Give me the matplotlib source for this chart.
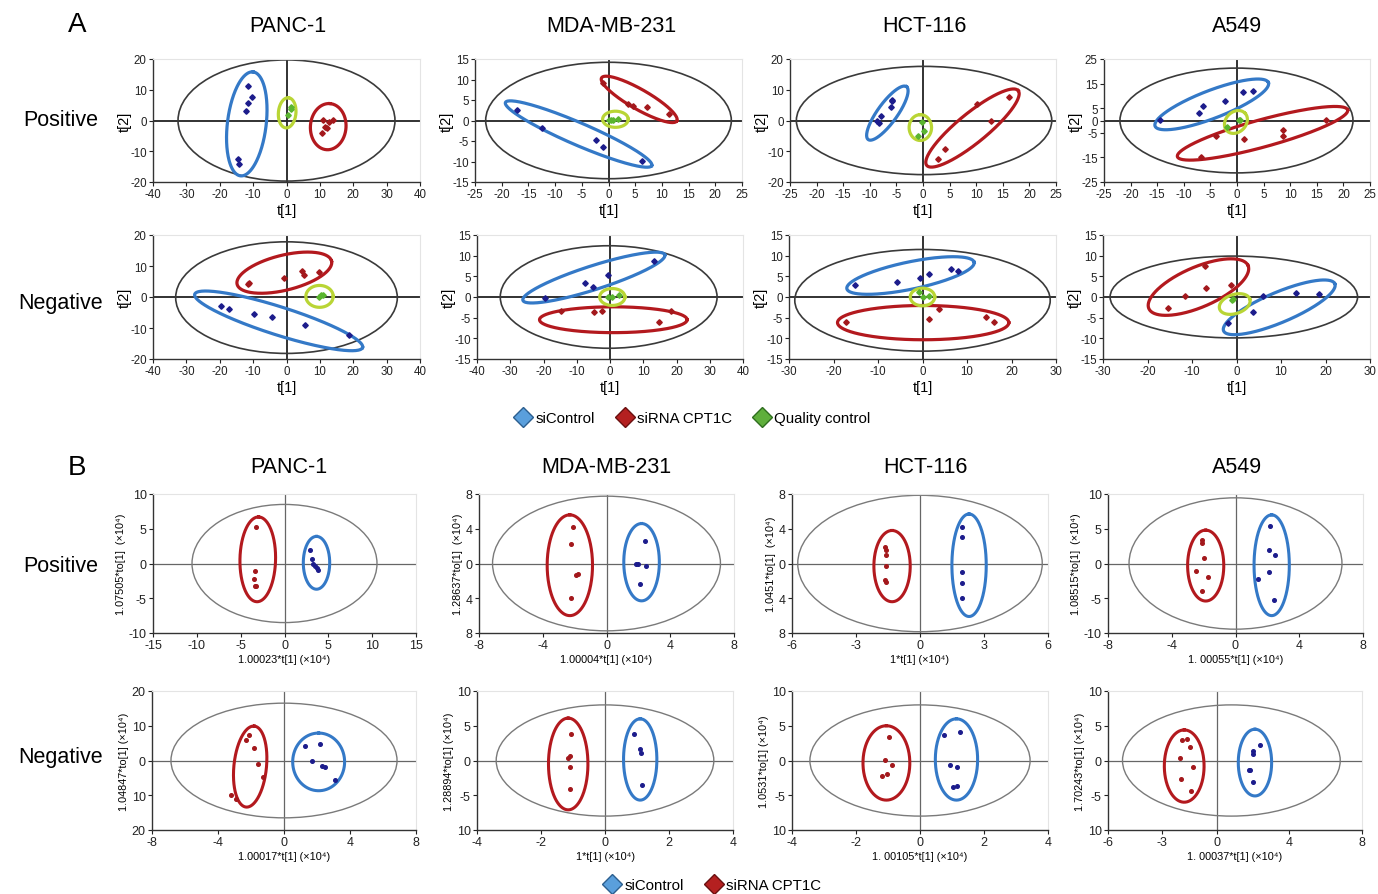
import numpy as np
import matplotlib.pyplot as plt
from matplotlib.patches import Ellipse
from matplotlib.lines import Line2D

plt.rcParams['font.family'] = ['Liberation Sans', 'DejaVu Sans']
plt.rcParams['axes.unicode_minus'] = False

W, H = 1378, 895
cell_lines = ['PANC-1', 'MDA-MB-231', 'HCT-116', 'A549']

# ---------------- panel A : PCA score plots (t[1] vs t[2]) ----------------
# ellipse entries: (centre, tip of long axis, minor/major ratio) for siControl, siRNA, QC
a_pos_panc1_si = [(-11.5, 11.2), (-10.4, 7.5), (-11.6, 5.8), (-12, 3.1), (-14.4, -12.5), (-14.2, -14)]
a_pos_panc1_cpt = [(11, 0.3), (12.8, -0.4), (13.8, 0.1), (11.5, -2.2), (12.2, -2.6), (10.7, -4)]
a_pos_panc1_qc = [(1.2, 4.5), (1.3, 3.6), (0.5, 1.7)]
a_pos_panc1_ell = [((-11.9, -1.1), (-10, 15.8), 0.37), ((12.5, -2), (13, 5.5), 0.77), ((0.2, 2.5), (0.6, 7.4), 0.58)]
a_pos_panc1_t2 = (0, 0, 32.5, 19.7)

a_pos_mda_si = [(-17.2, 2.6), (-12.5, -1.9), (-2.4, -4.8), (-1.1, -6.4), (6.2, -9.8)]
a_pos_mda_cpt = [(-1.1, 9.1), (3.7, 4.1), (4.5, 3.5), (7.2, 3.4), (11.3, 1.7)]
a_pos_mda_qc = [(0, 0.2), (0.5, 0.1), (0.9, 0.2), (1.8, 0.3)]
a_pos_mda_ell = [((-5.6, -3.3), (8.1, -11), 0.14), ((5.75, 5.15), (12.8, -0.1), 0.23), ((1.3, 0.3), (3.7, 0.3), 0.63)]
a_pos_mda_t2 = (0, 0, 23, 14.2)

a_pos_hct_si = [(-5.9, 6.8), (-5.8, 6.2), (-6, 4.5), (-7.9, 1.4), (-8.7, -0.3), (-8.2, -0.8)]
a_pos_hct_cpt = [(16.1, 7.8), (10.2, 5.3), (12.8, 0), (4.2, -9.2), (2.9, -12.4)]
a_pos_hct_qc = [(-0.1, -0.5), (0.1, -3.5), (-0.9, -4.9)]
a_pos_hct_ell = [((-6.7, 2.4), (-3.1, 11), 0.3), ((9.3, -2.45), (17.9, 9.7), 0.25), ((-0.5, -2.3), (-0.5, 1.9), 0.87)]
a_pos_hct_t2 = (0.2, 0, 24, 17.6)

a_pos_a549_si = [(-14.4, 0.4), (-7.2, 3.1), (-6.3, 5.9), (-2.2, 7.8), (1.1, 11.5), (3.1, 12.1)]
a_pos_a549_cpt = [(16.8, 0.1), (8.6, -3.8), (8.7, -6.3), (1.3, -7.4), (-3.9, -6.3), (-6.7, -14.9)]
a_pos_a549_qc = [(0.3, 0.3), (-1.8, -2.5), (0.6, 0.1)]
a_pos_a549_ell = [((-4.75, 6.55), (5.9, 15.4), 0.23), ((4.8, -5.2), (20.8, 4.3), 0.155), ((-0.2, -0.6), (1.5, 3), 0.8)]
a_pos_a549_t2 = (-0.1, 0, 21.9, 21.3)

a_neg_panc1_si = [(-19.5, -3), (-17.2, -4), (-9.6, -5.6), (-4.2, -6.5), (5.5, -9), (18.6, -12.1)]
a_neg_panc1_cpt = [(-11.2, 4.6), (-11.6, 4.1), (-0.8, 6), (4.5, 8.4), (5.3, 7), (9.6, 8)]
a_neg_panc1_qc = [(9.7, 0), (10.4, 0.5), (11, 0.6)]
a_neg_panc1_ell = [((-2.35, -7.7), (22.8, -16.3), 0.16), ((-0.65, 7.85), (13.5, 11.6), 0.36), ((9.9, 0.2), (14, 0.2), 0.8)]
a_neg_panc1_t2 = (0, -0.2, 33.2, 18)

a_neg_mda_si = [(-19.4, -0.2), (-7.5, 3.4), (-5.2, 2.5), (-0.5, 5.4), (13.3, 8.8)]
a_neg_mda_cpt = [(-14.6, -3.4), (-4.8, -3.6), (-2.3, -3.4), (18.3, -3.4), (14.8, -6.1)]
a_neg_mda_qc = [(-0.5, 0), (0.5, 0), (2.8, 0.6)]
a_neg_mda_ell = [((-4.85, 4.7), (16.5, 10.2), 0.16), ((1, -5.5), (23.2, -5.5), 0.175), ((0.7, 0), (4.5, 0), 0.67)]
a_neg_mda_t2 = (-0.4, 0, 32.6, 12.4)

a_neg_hct_si = [(-15.2, 2.8), (-5.8, 3.6), (-0.5, 4.6), (1.4, 5.6), (6.5, 6.8), (8, 6.2)]
a_neg_hct_cpt = [(-17.3, -6.1), (3.6, -3), (1.5, -5.4), (14.3, -4.8), (16.1, -6)]
a_neg_hct_qc = [(-0.8, 1.2), (0, 0), (1.5, 0.2)]
a_neg_hct_ell = [((-2.7, 5.2), (11.6, 8.4), 0.21), ((0.15, -6.2), (19.4, -6.2), 0.2), ((0, 0), (2.75, 0), 0.72)]
a_neg_hct_t2 = (0, -0.8, 28.7, 12.3)

a_neg_a549_si = [(-2, -6.2), (3.8, -3.6), (6, 0.3), (13.4, 1), (18.6, 0.7)]
a_neg_a549_cpt = [(-7, 7.4), (-6.9, 2.1), (-11.6, 0.2), (-1.3, 3), (-15.3, -2.6)]
a_neg_a549_qc = [(-0.8, -0.4), (-1.1, -0.8)]
a_neg_a549_ell = [((9.6, -2.5), (22.1, 3.2), 0.25), ((-8.55, 2.4), (2.6, 7.6), 0.37), ((-0.4, -1.7), (3, -0.5), 0.6)]
a_neg_a549_t2 = (-0.6, 0, 27.8, 9.9)

a_pos_xticks = [np.arange(-40, 41, 10), np.arange(-25, 26, 5), np.arange(-25, 26, 5), np.arange(-25, 26, 5)]
a_pos_yticks = [np.arange(-20, 21, 10), np.arange(-15, 16, 5), np.arange(-20, 21, 10), [-25, -15, -5, 0, 5, 15, 25]]
a_neg_xticks = [np.arange(-40, 41, 10), np.arange(-40, 41, 10), np.arange(-30, 31, 10), np.arange(-30, 31, 10)]
a_neg_yticks = [np.arange(-20, 21, 10), np.arange(-15, 16, 5), np.arange(-15, 16, 5), np.arange(-15, 16, 5)]

# ---------------- panel B : OPLS-DA score plots ----------------
b_pos_panc1_si = [(2.9, 2), (3.1, 0.7), (3.2, -0.1), (3.5, -0.3), (3.8, -0.9), (3.7, -0.7)]
b_pos_panc1_cpt = [(-3.2, 5.2), (-3.4, -1.1), (-3.5, -2.3), (-3.4, -3.2), (-3.2, -3.2)]
b_pos_panc1_ell = [((3.65, 0.1), (3.65, 3.9), 0.5), ((-3.05, 0.6), (-2.95, 6.7), 0.42)]
b_pos_panc1_t2 = (0, 0, 10.55, 8.5)

b_pos_mda_si = [(2.4, 2.55), (1.85, -0.1), (1.95, -0.05), (2.5, -0.3), (2.1, -2.4)]
b_pos_mda_cpt = [(-2.1, 4.15), (-2.2, 2.3), (-1.9, -1.3), (-1.8, -1.25), (-2.2, -4.0)]
b_pos_mda_ell = [((2.2, 0.15), (2.2, 4.6), 0.46), ((-2.3, -0.2), (-2.3, 5.6), 0.45)]
b_pos_mda_t2 = (0, 0, 7.15, 7.75)

b_pos_hct_si = [(1.98, 4.25), (1.98, 3.0), (1.97, -0.95), (1.98, -2.2), (1.97, -4.0)]
b_pos_hct_cpt = [(-1.62, 1.9), (-1.6, 1.5), (-1.58, 1.0), (-1.6, -0.3), (-1.62, -1.9), (-1.6, -2.1)]
b_pos_hct_ell = [((2.3, -0.2), (2.3, 5.7), 0.335), ((-1.31, -0.3), (-1.31, 3.8), 0.51)]
b_pos_hct_t2 = (0, 0, 5.73, 7.85)

b_pos_a549_si = [(2.15, 5.4), (2.1, 1.9), (2.5, 1.2), (2.1, -1.2), (1.4, -2.2), (2.4, -5.2)]
b_pos_a549_cpt = [(-2.1, 3.45), (-2.13, 2.9), (-1.98, 0.75), (-2.5, -1.1), (-1.75, -2.0), (-2.1, -4.0)]
b_pos_a549_ell = [((2.27, -0.25), (2.27, 7.0), 0.35), ((-1.87, -0.3), (-1.87, 4.8), 0.51)]
b_pos_a549_t2 = (0, 0, 6.68, 9.45)

b_neg_panc1_si = [(1.3, 4.1), (2.2, 4.7), (1.7, 0), (2.3, -1.5), (2.5, -1.75), (3.1, -5.5)]
b_neg_panc1_cpt = [(-2.3, 5.8), (-2.1, 7.3), (-1.8, 3.5), (-1.6, -0.9), (-1.3, -4.7), (-3.2, -9.9), (-2.9, -11.1)]
b_neg_panc1_ell = [((2.1, -0.4), (2.1, 7.9), 0.9), ((-2.05, -1.75), (-1.8, 9.9), 0.4)]
b_neg_panc1_t2 = (0, 0, 6.85, 16.5)

b_neg_mda_si = [(0.9, 3.8), (1.1, 1.6), (1.13, 1.1), (1.15, -3.5)]
b_neg_mda_cpt = [(-1.06, 3.8), (-1.1, 0.7), (-1.15, 0.3), (-1.1, -1), (-1.1, -4.1)]
b_neg_mda_ell = [((1.1, 0.15), (1.1, 6), 0.41), ((-1.15, -0.5), (-1.15, 6.1), 0.43)]
b_neg_mda_t2 = (0, 0, 3.4, 8)

b_neg_hct_si = [(0.75, 3.7), (1.25, 4.1), (0.94, -0.6), (1.16, -1), (1.03, -3.8), (1.15, -3.6)]
b_neg_hct_cpt = [(-0.97, 3.4), (-1.1, 0.1), (-0.87, -0.6), (-1.03, -2), (-1.19, -2.3)]
b_neg_hct_ell = [((1.14, 0.15), (1.14, 6), 0.52), ((-1.05, -0.35), (-1.05, 5), 0.63)]
b_neg_hct_t2 = (0, 0, 3.44, 8)

b_neg_a549_si = [(2, 1.4), (2, 1), (2.4, 2.3), (1.75, -1.3), (2, -3.1), (1.8, -1.4)]
b_neg_a549_cpt = [(-1.9, 3), (-1.65, 3.1), (-1.5, 2), (-2.05, 0.4), (-1.3, -1), (-2, -2.7), (-1.4, -4.4)]
b_neg_a549_ell = [((2.1, -0.3), (2.1, 4.5), 0.5), ((-1.8, -0.8), (-1.8, 4.4), 0.55)]
b_neg_a549_t2 = (0.8, 0, 6.0, 8)

b_pos_xticks = [[-15, -10, -5, 0, 5, 10, 15], [-8, -4, 0, 4, 8], [-6, -3, 0, 3, 6], [-8, -4, 0, 4, 8]]
b_pos_yticks = [[-10, -5, 0, 5, 10], [-8, -4, 0, 4, 8], [-8, -4, 0, 4, 8], [-10, -5, 0, 5, 10]]
b_pos_ylabels = [['-10', '-5', '0', '5', '10'], ['8', '4', '0', '4', '8'], ['8', '4', '0', '4', '8'], ['-10', '-5', '0', '5', '10']]
b_neg_xticks = [[-8, -4, 0, 4, 8], [-4, -2, 0, 2, 4], [-4, -2, 0, 2, 4], [-6, -3, 0, 4, 8]]
b_neg_yticks = [[-20, -10, 0, 10, 20], [-10, -5, 0, 5, 10], [-10, -5, 0, 5, 10], [-10, -5, 0, 5, 10]]
b_neg_ylabels = [['20', '10', '0', '10', '20'], ['10', '-5', '0', '5', '10'], ['10', '-5', '0', '5', '10'], ['10', '-5', '0', '5', '10']]
b_pos_xtitle = ['1.00023*t[1] (×10⁴)', '1.00004*t[1] (×10⁴)', '1*t[1] (×10⁴)', '1. 00055*t[1] (×10⁴)']
b_pos_ytitle = ['1.07505*to[1]  (×10⁴)', '1.28637*to[1]  (×10⁴)', '1.0451*to[1]  (×10⁴)', '1.08515*to[1]  (×10⁴)']
b_neg_xtitle = ['1.00017*t[1] (×10⁴)', '1*t[1] (×10⁴)', '1. 00105*t[1] (×10⁴)', '1. 00037*t[1] (×10⁴)']
b_neg_ytitle = ['1.04847*to[1] (×10⁴)', '1.28894*to[1] (×10⁴)', '1.0531*to[1] (×10⁴)', '1.70243*to[1] (×10⁴)']

A_POS = [(a_pos_panc1_si, a_pos_panc1_cpt, a_pos_panc1_qc, a_pos_panc1_ell, a_pos_panc1_t2),
         (a_pos_mda_si, a_pos_mda_cpt, a_pos_mda_qc, a_pos_mda_ell, a_pos_mda_t2),
         (a_pos_hct_si, a_pos_hct_cpt, a_pos_hct_qc, a_pos_hct_ell, a_pos_hct_t2),
         (a_pos_a549_si, a_pos_a549_cpt, a_pos_a549_qc, a_pos_a549_ell, a_pos_a549_t2)]
A_NEG = [(a_neg_panc1_si, a_neg_panc1_cpt, a_neg_panc1_qc, a_neg_panc1_ell, a_neg_panc1_t2),
         (a_neg_mda_si, a_neg_mda_cpt, a_neg_mda_qc, a_neg_mda_ell, a_neg_mda_t2),
         (a_neg_hct_si, a_neg_hct_cpt, a_neg_hct_qc, a_neg_hct_ell, a_neg_hct_t2),
         (a_neg_a549_si, a_neg_a549_cpt, a_neg_a549_qc, a_neg_a549_ell, a_neg_a549_t2)]
B_POS = [(b_pos_panc1_si, b_pos_panc1_cpt, b_pos_panc1_ell, b_pos_panc1_t2),
         (b_pos_mda_si, b_pos_mda_cpt, b_pos_mda_ell, b_pos_mda_t2),
         (b_pos_hct_si, b_pos_hct_cpt, b_pos_hct_ell, b_pos_hct_t2),
         (b_pos_a549_si, b_pos_a549_cpt, b_pos_a549_ell, b_pos_a549_t2)]
B_NEG = [(b_neg_panc1_si, b_neg_panc1_cpt, b_neg_panc1_ell, b_neg_panc1_t2),
         (b_neg_mda_si, b_neg_mda_cpt, b_neg_mda_ell, b_neg_mda_t2),
         (b_neg_hct_si, b_neg_hct_cpt, b_neg_hct_ell, b_neg_hct_t2),
         (b_neg_a549_si, b_neg_a549_cpt, b_neg_a549_ell, b_neg_a549_t2)]

# colours
SI_LINE, CPT_LINE, QC_LINE = '#3479c7', '#b3191e', '#b9d535'
SI_PT, CPT_PT, QC_PT = '#1c1c8c', '#a3181c', '#5ab52f'

# axes boxes in pixels (left, right) per column and (top, bottom) per row
a_pos_cols = [(153, 420), (475, 742), (790, 1056), (1104, 1370)]
a_neg_cols = [(153, 420), (477, 743), (789, 1056), (1103, 1370)]
b_pos_cols = [(153, 416), (479, 734), (792, 1048), (1108, 1363)]
b_neg_cols = [(152, 416), (477, 733), (792, 1048), (1108, 1362)]
a_pos_row, a_neg_row, b_pos_row, b_neg_row = (60, 183), (236, 360), (495, 634), (692, 831)


def add_ax(fig, cols, rows):
    (x0, x1), (y0, y1) = cols, rows
    return fig.add_axes([x0 / W, 1 - y1 / H, (x1 - x0) / W, (y1 - y0) / H])


def ellipse_xy(ax, centre, tip, ratio, n=300):
    # ellipse given in data units, with the minor axis perpendicular on screen
    xl, yl = ax.get_xlim(), ax.get_ylim()
    sx = ax.bbox.width / (xl[1] - xl[0])
    sy = ax.bbox.height / (yl[1] - yl[0])
    ux, uy = (tip[0] - centre[0]) * sx, (tip[1] - centre[1]) * sy
    vx, vy = -uy * ratio, ux * ratio
    t = np.linspace(0, 2 * np.pi, n)
    x = centre[0] + (ux * np.cos(t) + vx * np.sin(t)) / sx
    y = centre[1] + (uy * np.cos(t) + vy * np.sin(t)) / sy
    return x, y


def style_ax(ax, xticks, yticks, tsize, cross_col, cross_lw):
    ax.set_xlim(xticks[0], xticks[-1])
    ax.set_ylim(yticks[0], yticks[-1])
    ax.set_xticks(xticks)
    ax.set_yticks(yticks)
    ax.tick_params(direction='out', length=3, width=0.8, labelsize=tsize, pad=1.5, colors='#222222')
    for s in ['top', 'right']:
        ax.spines[s].set_color('#e4e4e4')
        ax.spines[s].set_linewidth(0.8)
    for s in ['left', 'bottom']:
        ax.spines[s].set_color('#333333')
        ax.spines[s].set_linewidth(1.0)
    ax.axhline(0, color=cross_col, lw=cross_lw, zorder=1)
    ax.axvline(0, color=cross_col, lw=cross_lw, zorder=1)


fig = plt.figure(figsize=(W / 100, H / 100), dpi=100)

# panel A
for row_data, cols, rows, xt_list, yt_list in [(A_POS, a_pos_cols, a_pos_row, a_pos_xticks, a_pos_yticks),
                                               (A_NEG, a_neg_cols, a_neg_row, a_neg_xticks, a_neg_yticks)]:
    for i, (si, cpt, qc, ells, t2) in enumerate(row_data):
        ax = add_ax(fig, cols[i], rows)
        style_ax(ax, list(xt_list[i]), list(yt_list[i]), 8.3, '#222222', 1.3)
        ax.add_patch(Ellipse((t2[0], t2[1]), 2 * t2[2], 2 * t2[3], fill=False, ec='#3a3a3a', lw=1.2, zorder=2))
        for (c, tip, r), col in zip(ells, [SI_LINE, CPT_LINE, QC_LINE]):
            ex, ey = ellipse_xy(ax, c, tip, r)
            ax.plot(ex, ey, color=col, lw=2.3, zorder=3)
        for pts, col in [(si, SI_PT), (cpt, CPT_PT), (qc, QC_PT)]:
            p = np.array(pts)
            ax.plot(p[:, 0], p[:, 1], 'D', ms=2.8, color=col, mec=col, zorder=4)
        ax.set_xlabel('t[1]', fontsize=10.5, labelpad=2)
        ax.set_ylabel('t[2]', fontsize=10.5)
        ax.yaxis.set_label_coords(-0.08, 0.5)

# panel B
for row_data, cols, rows, xt_list, yt_list, yl_list, xtit, ytit in [
        (B_POS, b_pos_cols, b_pos_row, b_pos_xticks, b_pos_yticks, b_pos_ylabels, b_pos_xtitle, b_pos_ytitle),
        (B_NEG, b_neg_cols, b_neg_row, b_neg_xticks, b_neg_yticks, b_neg_ylabels, b_neg_xtitle, b_neg_ytitle)]:
    for i, (si, cpt, ells, t2) in enumerate(row_data):
        ax = add_ax(fig, cols[i], rows)
        style_ax(ax, xt_list[i], yt_list[i], 9, '#666666', 0.9)
        ax.set_yticklabels(yl_list[i])
        ax.add_patch(Ellipse((t2[0], t2[1]), 2 * t2[2], 2 * t2[3], fill=False, ec='#7a7a7a', lw=1.0, zorder=2))
        for (c, tip, r), col in zip(ells, [SI_LINE, CPT_LINE]):
            ex, ey = ellipse_xy(ax, c, tip, r)
            ax.plot(ex, ey, color=col, lw=2.2, zorder=3)
        for pts, col in [(si, SI_PT), (cpt, CPT_PT)]:
            p = np.array(pts)
            ax.plot(p[:, 0], p[:, 1], 'o', ms=2.6, color=col, mec=col, zorder=4)
        ax.set_xlabel(xtit[i], fontsize=7.8, labelpad=2)
        ax.set_ylabel(ytit[i], fontsize=7.8, labelpad=2)

# titles and row labels
for cx, name in zip([288, 611, 924, 1237], cell_lines):
    fig.text(cx / W, 1 - 27 / H, name, ha='center', va='center', fontsize=15.5)
for cx, name in zip([289, 606, 925, 1237], cell_lines):
    fig.text(cx / W, 1 - 468 / H, name, ha='center', va='center', fontsize=15.5)
fig.text(77 / W, 1 - 25 / H, 'A', ha='center', va='center', fontsize=20)
fig.text(77 / W, 1 - 468 / H, 'B', ha='center', va='center', fontsize=20)
for y, lab in [(120, 'Positive'), (303, 'Negative'), (566, 'Positive'), (758, 'Negative')]:
    fig.text(61 / W, 1 - y / H, lab, ha='center', va='center', fontsize=15.5)

# legends
def diamond(face, edge):
    return Line2D([], [], ls='none', marker='D', ms=10, mfc=face, mec=edge, mew=1.0)

h_si = diamond('#5a9fdc', '#2c5f8f')
h_cpt = diamond('#b42020', '#6a1010')
h_qc = diamond('#5faf3c', '#2f6e1f')
fig.legend([h_si, h_cpt, h_qc], ['siControl', 'siRNA CPT1C', 'Quality control'], loc='center',
           bbox_to_anchor=(692 / W, 1 - 419 / H), ncol=3, frameon=False, fontsize=10.8,
           handletextpad=0.2, columnspacing=1.4, handlelength=1.2)
fig.legend([h_si, h_cpt], ['siControl', 'siRNA CPT1C'], loc='center',
           bbox_to_anchor=(712 / W, 1 - 886 / H), ncol=2, frameon=False, fontsize=10.8,
           handletextpad=0.2, columnspacing=1.4, handlelength=1.2)

fig.savefig('out.png', dpi=100)
